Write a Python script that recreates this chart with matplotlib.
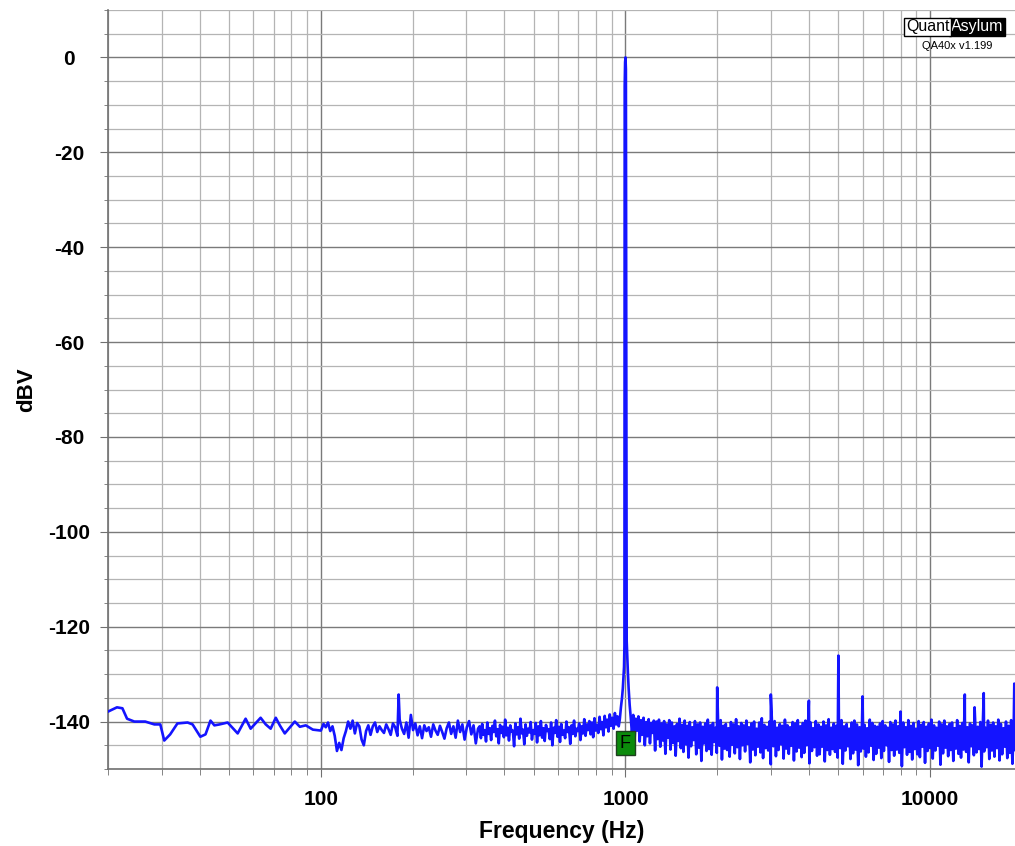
import numpy as np
import matplotlib
matplotlib.use("Agg")
import matplotlib.pyplot as plt
from matplotlib.ticker import MultipleLocator, LogLocator, NullFormatter, FixedLocator

plt.rcParams["axes.unicode_minus"] = False

# ==========================
# Data
# ==========================

# low frequency part, 20 - 100 Hz
lf_freq = [20, 21.4, 22.3, 23.1, 24.4, 26.5, 28.4, 29.7, 30.6, 32.0, 33.8, 36.5,
           37.9, 40.2, 41.8, 43.4, 44.7, 46.5, 49.4, 53.3, 56.6, 58.8, 63.4, 65.9,
           68.4, 71.1, 73.3, 76.1, 82.1, 85.3, 89.2, 94.1, 100]
lf_db = [-137.9, -137.0, -137.2, -139.4, -140.0, -140.0, -140.6, -140.6, -144.0,
         -142.7, -140.4, -140.2, -140.6, -143.2, -142.7, -139.8, -140.8, -140.6,
         -140.2, -142.5, -139.4, -141.5, -139.2, -140.6, -141.5, -139.2, -140.8,
         -142.5, -140.0, -141.1, -140.8, -141.7, -141.9]

# 100 - 330 Hz
mid1_db = [-140.5, -141.2, -140.2, -142.0, -141.0, -143.0, -146.2, -144.5, -146.0, -143.5,
           -142.0, -140.0, -141.5, -139.8, -142.5, -140.3, -141.0, -143.8, -145.0, -142.0,
           -140.8, -142.8, -141.0, -140.2, -142.2, -141.0, -141.8, -142.4, -140.6, -141.6,
           -142.8, -140.4, -141.2, -143.0, -139.6, -141.5, -142.6, -140.2, -143.4, -138.6,
           -141.8, -140.4, -142.9, -141.0, -143.5, -140.8, -142.0, -141.2, -143.2, -140.6,
           -141.9, -142.8, -140.9, -142.2, -143.6, -141.4, -140.2, -142.6, -141.0, -143.4,
           -139.8, -142.2, -140.6, -143.8, -141.2, -139.9, -142.7, -140.8, -144.6, -141.5]

# 330 - 950 Hz
mid2_db = [-141.0, -143.5, -140.5, -142.8, -141.8, -144.2, -140.2, -142.6, -141.4, -143.9,
           -140.9, -142.2, -139.8, -143.1, -141.6, -144.6, -140.7, -142.4, -141.1, -143.3,
           -139.6, -142.9, -141.3, -144.0, -140.8, -142.1, -141.9, -145.2, -140.4, -142.7,
           -141.2, -143.6, -139.4, -142.5, -141.7, -144.8, -140.6, -143.0, -141.5, -142.3,
           -140.1, -143.8, -141.8, -142.6, -140.3, -144.4, -141.0, -142.9, -139.9, -143.4,
           -141.4, -144.1, -140.7, -142.0, -141.6, -143.7, -140.2, -145.0, -141.3, -142.4,
           -139.7, -143.2, -141.1, -144.3, -140.5, -142.8, -141.9, -143.5, -140.0, -142.2,
           -141.2, -144.7, -140.8, -142.6, -139.8, -143.1, -141.5, -142.0, -140.4, -143.9,
           -141.0, -142.5, -139.5, -143.0, -140.6, -141.8, -139.9, -142.7, -140.2, -143.3,
           -139.3, -141.9, -140.7, -142.4, -139.0, -141.6, -140.1, -142.9, -138.8, -141.2,
           -139.6, -142.1, -138.5, -140.9, -139.2, -141.5, -138.2, -140.6, -138.9, -141.0]

# 1 kHz test tone
peak_freq = [958, 966, 974, 980, 985, 989, 992, 994, 997, 1000, 1003, 1006, 1009,
             1013, 1018, 1024, 1032]
peak_db = [-139.5, -137.0, -135.0, -133.0, -130.5, -128.5, -124.0, -6.0, -1.0, 0.0,
           -2.5, -70.0, -123.0, -126.0, -129.5, -133.0, -136.5]

# noise floor 1.04 - 19 kHz
hf_db = [-139.0, -142.5, -138.6, -143.8, -139.4, -141.9, -138.9, -144.2, -139.7, -142.8, -139.2, -145.0, -140.1, -143.1, -139.5, -144.6, -140.3, -142.4, -139.8, -146.1,
         -140.0, -143.7, -139.6, -145.3, -140.4, -144.0, -139.9, -146.8, -140.6, -143.4, -139.7, -145.9, -140.2, -144.5, -141.0, -147.2, -140.5, -144.1, -139.4, -145.6,
         -140.7, -146.4, -139.8, -144.8, -140.9, -147.6, -140.1, -145.2, -141.2, -143.9, -139.9, -146.9, -140.6, -145.5, -140.2, -148.3, -141.1, -144.6, -140.4, -146.2,
         -139.6, -145.8, -140.8, -147.0, -140.3, -144.3, -141.3, -146.6, -140.0, -145.1, -139.7, -148.0, -140.9, -145.7, -140.5, -146.0, -141.4, -147.4, -140.1, -144.9,
         -140.6, -146.7, -139.5, -145.4, -141.0, -147.9, -140.3, -145.0, -140.8, -146.3, -139.8, -144.7, -141.2, -148.6, -140.4, -145.9, -140.0, -147.1, -141.5, -145.3,
         -140.2, -146.5, -139.3, -147.7, -140.7, -145.6, -141.1, -146.1, -140.0, -149.0, -140.6, -145.2, -139.9, -147.3, -141.3, -146.0, -140.5, -144.8, -140.9, -147.8,
         -139.6, -145.7, -140.8, -146.8, -141.2, -145.1, -140.1, -148.2, -140.4, -146.3, -139.7, -145.5, -141.0, -147.5, -140.3, -146.6, -139.8, -145.0, -140.7, -148.8,
         -140.2, -146.2, -141.4, -145.4, -139.9, -147.2, -140.6, -146.9, -141.1, -145.3, -140.0, -148.4, -140.8, -146.0, -139.5, -147.0, -141.3, -145.8, -140.4, -146.4,
         -140.9, -147.6, -140.1, -145.6, -139.7, -148.9, -141.0, -146.1, -140.5, -145.2, -141.5, -147.9, -140.2, -146.7, -139.8, -145.9, -140.6, -149.2, -141.2, -146.3,
         -140.0, -145.7, -140.7, -147.4, -141.4, -146.5, -139.6, -145.1, -140.3, -148.1, -140.9, -146.8, -141.1, -145.5, -140.4, -147.7, -139.9, -146.2, -140.8, -145.0,
         -141.3, -148.5, -140.1, -146.0, -140.6, -147.2, -139.8, -145.9, -141.0, -146.6, -140.5, -149.4, -140.2, -145.4, -141.2, -147.0, -139.7, -146.4, -140.9, -148.0,
         -140.3, -145.8, -141.5, -146.9, -139.9, -147.5, -140.7, -145.3, -140.1, -148.7, -141.1, -146.2, -140.4, -145.6, -139.6, -147.8, -140.8, -146.1, -141.3, -145.1,
         -140.0, -149.1, -140.6, -146.7, -139.8, -145.5, -141.0, -147.3, -140.5, -146.0, -140.2, -148.3, -141.4, -145.7, -139.7, -146.8, -140.9, -147.6, -140.3, -145.9,
         -139.5, -146.4, -141.2, -148.6, -140.4, -145.2, -140.8, -147.1, -139.9, -146.5, -141.1, -145.8, -140.1, -149.5, -140.6, -146.3, -141.3, -145.4, -139.8, -147.9,
         -140.7, -146.1, -140.2, -147.4, -141.0, -145.6, -139.6, -148.2, -140.5, -146.9, -141.4, -145.3, -140.0, -147.7, -140.9, -146.6, -139.7, -148.9, -141.2, -146.0]

# mains / harmonic spurs
spur_freq = [180, 2000, 3000, 4000, 5000, 6000, 8000, 13000, 14000, 15000, 18900]
spur_db = [-134.3, -132.8, -134.3, -135.6, -126.1, -134.7, -137.9, -134.3, -137.0, -134.0, -132.0]

x_ticks = [100, 1000, 10000]
x_tick_labels = ["100", "1000", "10000"]

# ==========================
# Build Trace
# ==========================

freq = np.concatenate([
    lf_freq,
    np.geomspace(102, 328, len(mid1_db)),
    np.geomspace(332, 950, len(mid2_db)),
    peak_freq,
    np.geomspace(1040, 19000, len(hf_db)),
    spur_freq,
])
level = np.concatenate([lf_db, mid1_db, mid2_db, peak_db, hf_db, spur_db])

order = np.argsort(freq, kind="stable")
freq = freq[order]
level = level[order]

# ==========================
# Plot
# ==========================

FONT = ["Liberation Sans", "DejaVu Sans"]

fig = plt.figure(figsize=(10.15, 8.46), dpi=100)
ax = fig.add_axes([108 / 1015, 77 / 846, 907 / 1015, 759 / 846])

ax.plot(freq, level, color="#1414ff", lw=1.9, zorder=3)

ax.set_xscale("log")
ax.set_xlim(20, 19000)
ax.set_ylim(-150, 10)

ax.yaxis.set_major_locator(MultipleLocator(20))
ax.yaxis.set_minor_locator(MultipleLocator(5))
ax.xaxis.set_major_locator(FixedLocator(x_ticks))
ax.xaxis.set_minor_locator(LogLocator(base=10, subs=np.arange(2, 10)))
ax.xaxis.set_minor_formatter(NullFormatter())
ax.set_xticklabels(x_tick_labels)

ax.grid(which="major", color="#7a7a7a", lw=1.0, zorder=0)
ax.grid(which="minor", color="#b4b4b4", lw=0.9, zorder=0)

for side in ["top", "right"]:
    ax.spines[side].set_visible(False)
for side in ["left", "bottom"]:
    ax.spines[side].set_color("#707070")
    ax.spines[side].set_linewidth(1.2)

ax.tick_params(axis="both", which="both", colors="#707070")
ax.tick_params(axis="y", which="major", length=6, pad=22, labelcolor="black")
ax.tick_params(axis="y", which="minor", length=3)
ax.tick_params(axis="x", which="major", length=6, pad=9, labelcolor="black")
ax.tick_params(axis="x", which="minor", length=4)

for lab in ax.get_yticklabels():
    lab.set_horizontalalignment("center")
    lab.set_fontsize(15)
    lab.set_fontweight("bold")
    lab.set_family(FONT)
for lab in ax.get_xticklabels():
    lab.set_fontsize(15)
    lab.set_fontweight("bold")
    lab.set_family(FONT)

ax.set_xlabel("Frequency (Hz)", fontsize=16.5, fontweight="bold", family=FONT, labelpad=8)
ax.set_ylabel("dBV", fontsize=16, fontweight="bold", family=FONT, labelpad=8)

# fundamental marker
ax.text(1000, -144.6, "F", ha="center", va="center", fontsize=13, color="black",
        family=FONT, zorder=5,
        bbox=dict(boxstyle="square,pad=0.2", fc="#0b8a0b", ec="#1f3f1f", lw=1.0))

# ==========================
# Logo
# ==========================

t1 = fig.text(906 / 1015, 1 - 27 / 846, "Quant", fontsize=11.5, family=FONT,
              ha="left", va="center",
              bbox=dict(boxstyle="square,pad=0.12", fc="white", ec="black", lw=1.0))
ax.annotate("Asylum", xy=(1.0, 0.5), xycoords=t1, xytext=(1, 0),
            textcoords="offset points", fontsize=11.5, family=FONT, color="white",
            ha="left", va="center",
            bbox=dict(boxstyle="square,pad=0.12", fc="black", ec="black", lw=1.0),
            annotation_clip=False)
fig.text(957 / 1015, 1 - 46 / 846, "QA40x v1.199", fontsize=8, family=FONT,
         ha="center", va="center")

fig.savefig("out.png", dpi=100)
